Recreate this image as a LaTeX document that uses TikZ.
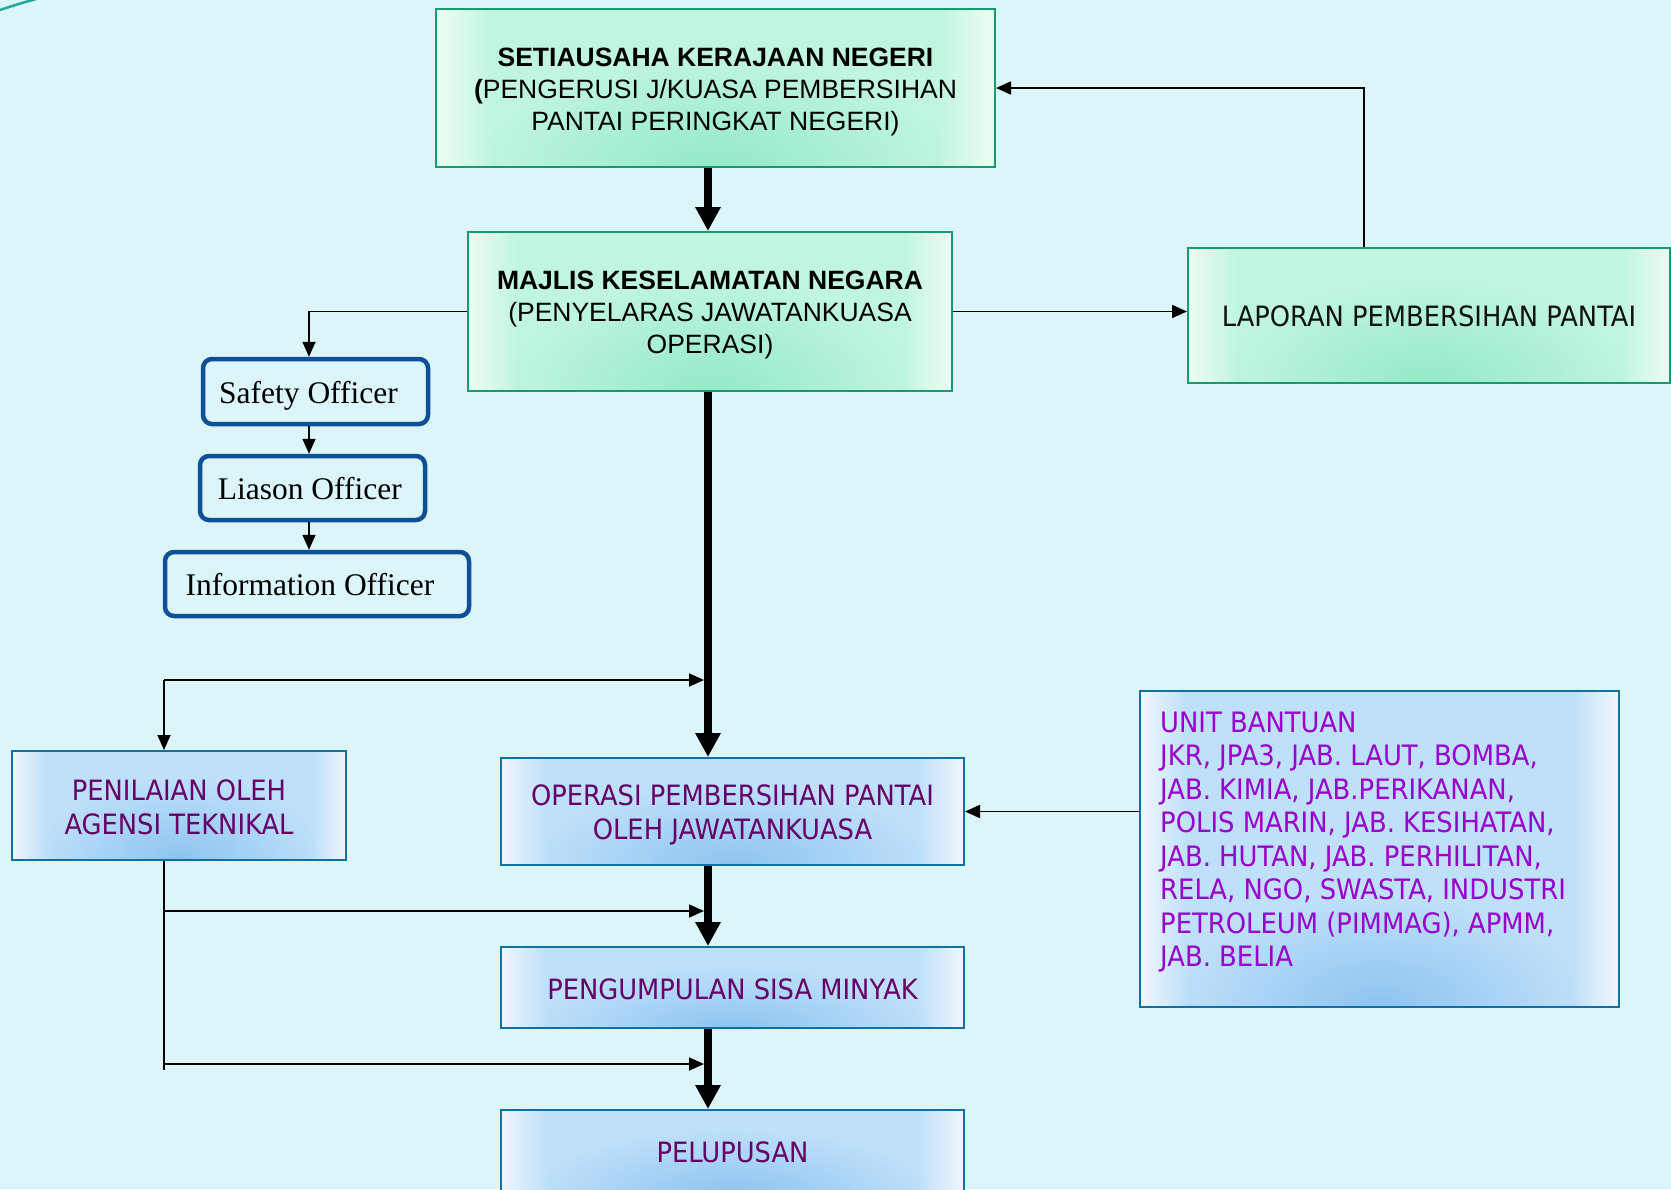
\documentclass[tikz,border=0pt]{standalone}
\usepackage{fontspec}
\setmainfont{Liberation Sans}
\newfontfamily\tahfont[FakeStretch=0.92]{DejaVu Sans}
\newfontfamily\serfont{Liberation Serif}
\usetikzlibrary{arrows.meta,calc,fadings}

\definecolor{bg}{RGB}{220,245,248}
\definecolor{gborder}{RGB}{22,154,112}
\definecolor{gdark}{RGB}{148,234,200}
\definecolor{glight}{RGB}{192,246,222}
\definecolor{gedge}{RGB}{238,252,243}
\definecolor{bborder}{RGB}{16,112,160}
\definecolor{bdark}{RGB}{142,196,240}
\definecolor{blight}{RGB}{190,224,250}
\definecolor{bedge}{RGB}{240,246,254}
\definecolor{offborder}{RGB}{14,80,150}
\definecolor{purp}{RGB}{102,0,102}
\definecolor{viol}{RGB}{153,0,204}
\definecolor{arcc}{RGB}{30,170,160}

\pgfdeclarehorizontalshading{greenhor}{100bp}{color(0bp)=(gedge); color(25bp)=(gedge); color(30bp)=(glight); color(70bp)=(glight); color(75bp)=(gedge); color(100bp)=(gedge)}
\pgfdeclarehorizontalshading{bluehor}{100bp}{color(0bp)=(bedge); color(25bp)=(bedge); color(30bp)=(blight); color(70bp)=(blight); color(75bp)=(bedge); color(100bp)=(bedge)}
\tikzfading[name=radfade, inner color=transparent!0, outer color=transparent!100]

\newcommand\shtxt[3]{\hspace*{#1}\raisebox{#2}[\height][\depth]{\begin{tabular}{@{}c@{}}#3\end{tabular}}\hspace*{-#1}}

\tikzset{
  greenbox/.style 2 args={draw=gborder, line width=2pt, fill=gedge, inner sep=0pt,
    minimum width=#1pt, minimum height=#2pt,
    path picture={
      \shade[shading=greenhor] (path picture bounding box.south west) rectangle (path picture bounding box.north east);
      \fill[gdark, path fading=radfade] (path picture bounding box.south)
        ellipse [x radius=0.42*#1pt, y radius={min(0.75*#2,110)*1pt}];}},
  bluebox/.style 2 args={draw=bborder, line width=2pt, fill=bedge, inner sep=0pt,
    minimum width=#1pt, minimum height=#2pt,
    text=purp, font=\tahfont\fontsize{28}{34}\selectfont,
    path picture={
      \shade[shading=bluehor] (path picture bounding box.south west) rectangle (path picture bounding box.north east);
      \fill[bdark, path fading=radfade] (path picture bounding box.south)
        ellipse [x radius=0.42*#1pt, y radius={min(0.75*#2,110)*1pt}];}},
  offbox/.style 2 args={draw=offborder, line width=4.5pt, rounded corners=9pt,
    fill=bg, inner sep=0pt, minimum width=#1pt, minimum height=#2pt,
    font=\serfont\fontsize{31.5}{36}\selectfont},
  topfont/.style={font=\fontsize{26.5}{32}\selectfont},
  thinarr/.style={line width=1.8pt, -{Triangle[length=15pt,width=13pt]}},
  thinline/.style={line width=1.8pt},
  thickarr/.style={line width=7.5pt, -{Triangle[length=24pt,width=24pt]}},
}

\begin{document}
\begin{tikzpicture}[x=1pt,y=-1pt]
\useasboundingbox (0,0) rectangle (1671,1189);
\fill[bg] (0,0) rectangle (1671,1189);
\draw[arcc, line width=2.5pt] (0,10) .. controls (15,5) and (28,1) .. (44,-3);

% coordinates
\coordinate (spine) at (708,0);
\coordinate (offx) at (309,0);
\coordinate (rx) at (1364,0);

% green boxes
\node[greenbox={559}{158.5}, topfont] (b1) at (715.5,88)
  {\shtxt{0pt}{-3.6pt}{\textbf{SETIAUSAHA KERAJAAN NEGERI}\\\textbf{(}PENGERUSI J/KUASA PEMBERSIHAN\\PANTAI PERINGKAT NEGERI)}};
\node[greenbox={484}{159}, topfont] (b2) at (710,311.5)
  {\shtxt{0pt}{-3.6pt}{\textbf{MAJLIS KESELAMATAN NEGARA}\\(PENYELARAS JAWATANKUASA\\OPERASI)}};
\node[greenbox={482}{135}, font=\tahfont\fontsize{28}{34}\selectfont, text={black!93}] (lap) at (1429,315.5)
  {\shtxt{0pt}{-4.4pt}{LAPORAN PEMBERSIHAN PANTAI}};

% officers
\node[offbox={225}{65}] (safety) at (315.5,391.5) {\shtxt{-7pt}{-4.7pt}{Safety Officer}};
\node[offbox={225}{64}] (liason) at (312.5,488) {\shtxt{-2.7pt}{-4.2pt}{Liason Officer}};
\node[offbox={304}{64}] (info) at (317,584) {\shtxt{-7pt}{-4.2pt}{Information Officer}};

% blue boxes
\node[bluebox={334}{109}] (pen) at (179,805.5) {\shtxt{0pt}{-4.9pt}{PENILAIAN OLEH\\AGENSI TEKNIKAL}};
\node[bluebox={463}{107}] (ops) at (732.5,811.5) {\shtxt{0pt}{-4.4pt}{OPERASI PEMBERSIHAN PANTAI\\OLEH JAWATANKUASA}};
\node[bluebox={463}{81}] (peng) at (732.5,987.5) {\shtxt{0pt}{-4.7pt}{PENGUMPULAN SISA MINYAK}};
\node[bluebox={463}{84}] (pel) at (732.5,1152) {\shtxt{0pt}{-3.4pt}{PELUPUSAN}};
\node[bluebox={479}{316}] (unit) at (1379.5,849) {};
\node[anchor=west, inner sep=0pt, align=left, text=viol,
  font=\tahfont\fontsize{28.1}{33.5}\selectfont] (unittext) at (1160,842.3)
  {UNIT BANTUAN\\JKR, JPA3, JAB. LAUT, BOMBA,\\JAB. KIMIA, JAB.PERIKANAN,\\POLIS MARIN, JAB. KESIHATAN,\\JAB. HUTAN, JAB. PERHILITAN,\\RELA, NGO, SWASTA, INDUSTRI\\PETROLEUM (PIMMAG), APMM,\\JAB. BELIA};

% thick spine arrows
\draw[thickarr] (b1.south -| spine) -- (b2.north -| spine);
\draw[thickarr] (b2.south -| spine) -- (ops.north -| spine);
\draw[thickarr] (ops.south -| spine) -- (peng.north -| spine);
\draw[thickarr] (peng.south -| spine) -- (pel.north -| spine);

% thin connectors
\draw[thinarr] (b2.east) -- (b2.east -| lap.west);
\draw[thinarr] (lap.north -| rx) |- (b1.east);
\draw[thinarr] (b2.west) -| (safety.north -| offx);
\draw[thinarr] (safety.south -| offx) -- (liason.north -| offx);
\draw[thinarr] (liason.south -| offx) -- (info.north -| offx);
\draw[thinarr] (unit.west |- ops.east) -- (ops.east);

% left feedback lines
\coordinate (l1) at (164,680);
\coordinate (s1) at (704,680);
\coordinate (l2) at (164,911);
\coordinate (s2) at (704,911);
\coordinate (l3) at (164,1064);
\coordinate (s3) at (704,1064);
\coordinate (lend) at (164,1070);
\draw[thinarr] (l1) -- (s1);
\draw[thinarr] (l1) -- (l1 |- pen.north);
\draw[thinline] (pen.south -| lend) -- (lend);
\draw[thinarr] (l2) -- (s2);
\draw[thinarr] (l3) -- (s3);
\end{tikzpicture}
\end{document}
